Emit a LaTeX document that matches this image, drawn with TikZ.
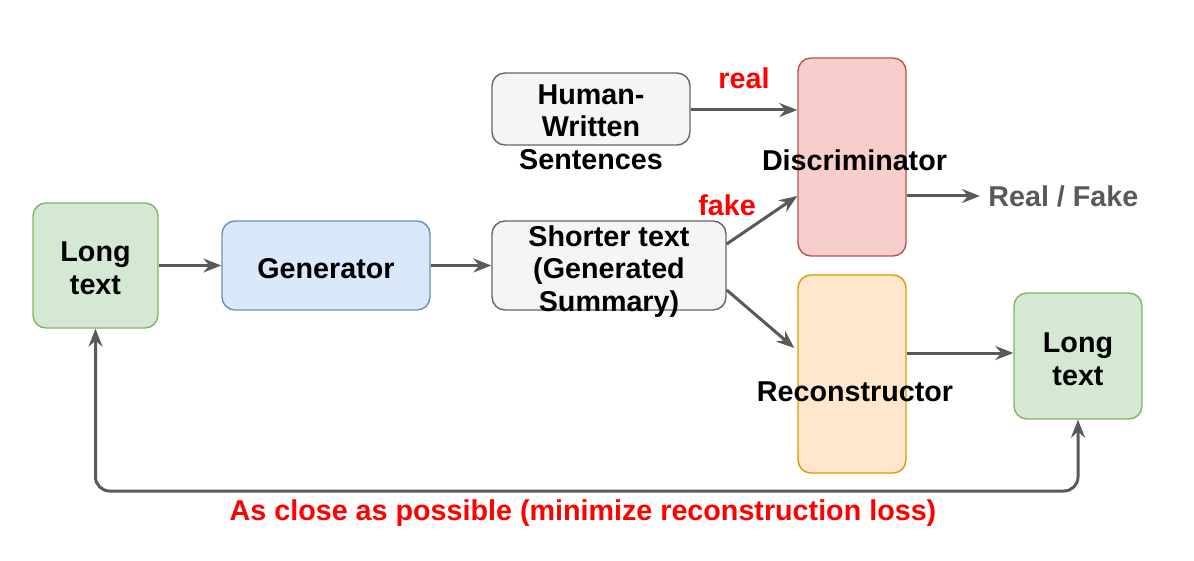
\documentclass[tikz,border=0pt]{standalone}
\usepackage{fontspec}
\setmainfont{Liberation Sans}
\usetikzlibrary{arrows.meta}
\definecolor{gfill}{HTML}{D5E8D4}\definecolor{gline}{HTML}{82B366}
\definecolor{bfill}{HTML}{DAE8FC}\definecolor{bline}{HTML}{6C8EBF}
\definecolor{kfill}{HTML}{F5F5F5}\definecolor{kline}{HTML}{666666}
\definecolor{rfill}{HTML}{F8CECC}\definecolor{rline}{HTML}{B85450}
\definecolor{ofill}{HTML}{FFE6CC}\definecolor{oline}{HTML}{D79B00}
\definecolor{arrc}{HTML}{595959}
\definecolor{redtxt}{HTML}{FF0000}
\tikzset{
  every node/.style={font=\fontsize{14.35}{16.3}\selectfont\bfseries, align=center},
  box/.style={draw, line width=0.7pt, rounded corners=6.5pt, inner sep=0pt},
  greenbox/.style={box, fill=gfill, draw=gline},
  bluebox/.style={box, fill=bfill, draw=bline},
  graybox/.style={box, fill=kfill, draw=kline},
  redbox/.style={box, fill=rfill, draw=rline},
  orangebox/.style={box, fill=ofill, draw=oline},
  arr/.style={draw=arrc, line width=1.5pt, -{Stealth[length=9pt,width=7pt,inset=3pt]}},
  redlbl/.style={text=redtxt},
}
\begin{document}
\begin{tikzpicture}[x=0.5pt,y=-0.5pt]
\useasboundingbox (0,0) rectangle (1194,561);
% nodes
\node[greenbox, minimum width=62.5pt, minimum height=62.5pt,
      label={[yshift=-1.5pt]center:Long\\text}] (lt1) at (95.5,265.5) {};
\node[bluebox, minimum width=104pt, minimum height=44.5pt,
      label={[yshift=-1.5pt]center:Generator}] (gen) at (326,265.5) {};
\node[graybox, minimum width=117pt, minimum height=44.5pt,
      label={[yshift=-3pt]center:Shorter text\\(Generated\\Summary)}] (st) at (609,265.5) {};
\node[graybox, minimum width=99pt, minimum height=36pt,
      label={[yshift=-9pt]center:Human-\\Written\\Sentences}] (hws) at (591,109) {};
\node[redbox, minimum width=54pt, minimum height=99pt,
      label={[xshift=1.25pt,yshift=-1.5pt]center:Discriminator}] (disc) at (852,157) {};
\node[orangebox, minimum width=54pt, minimum height=99pt,
      label={[xshift=1.5pt,yshift=-9pt]center:Reconstructor}] (rec) at (852,374) {};
\node[greenbox, minimum width=64pt, minimum height=63pt,
      label={[yshift=-1.5pt]center:Long\\text}] (lt2) at (1078,356) {};
\node[text=arrc, anchor=west, inner sep=4pt] (rf) at (980,196) {Real / Fake};
\coordinate (base) at (0,491);
% connectors
\draw[arr] (lt1) -- (gen);
\draw[arr] (gen) -- (st);
\draw[arr] ([yshift=-0.5pt]hws.east) -- node[redlbl, yshift=16pt] (real) {real} ([yshift=23.5pt]disc.west);
\draw[arr] ([yshift=10.75pt]st.east) -- node[redlbl, xshift=-17.5pt, yshift=7.5pt] (fake) {fake} ([yshift=-19.5pt]disc.west);
\draw[arr] ([yshift=-12.25pt]st.east) -- ([xshift=-1.5pt,yshift=13pt]rec.west);
\draw[arr] ([yshift=-19.5pt]disc.east) -- (rf.west);
\draw[arr] ([yshift=10.5pt]rec.east) -- ([yshift=1.5pt]lt2.west);
\draw[arr, {Stealth[length=9pt,width=7pt,inset=3pt]}-{Stealth[length=9pt,width=7pt,inset=3pt]}, rounded corners=7pt]
  (lt1.south) -- (lt1.south |- base) -- (lt2.south |- base) -- (lt2.south);
\node[redlbl] (loss) at (583,513) {As close as possible (minimize reconstruction loss)};
\end{tikzpicture}
\end{document}
